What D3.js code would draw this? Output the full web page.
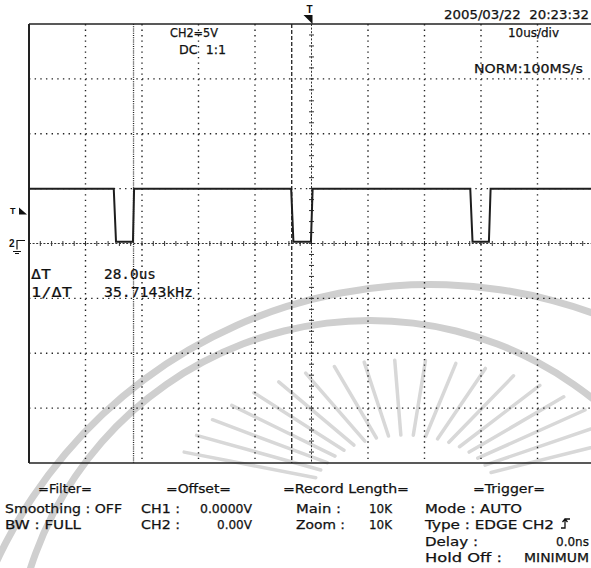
<!DOCTYPE html>
<html>
<head>
<meta charset="utf-8">
<script src="https://cdn.jsdelivr.net/npm/d3@7"></script>
<style>
  html, body { margin: 0; padding: 0; background: #fff; }
  svg { display: block; }
  text { white-space: pre; }
  .lbl { font-family: "DejaVu Sans", sans-serif; font-size: 12.5px; fill: #111; stroke: #111; stroke-width: 0.25px; }
  .mono { font-family: "DejaVu Sans Mono", monospace; font-size: 13.5px; fill: #111; stroke: #111; stroke-width: 0.2px; }
</style>
</head>
<body>
<div id="scope"></div>
<script>
// CH2 waveform (time in us, level in V)
var timesUs = [0, 15.0, 15.4, 18.4, 18.6, 46.4, 46.8, 49.9, 50.2, 78.1, 78.5, 81.4, 81.7, 100];
var ch2Volts = [5.0, 5.0, 0.15, 0.15, 5.0, 5.0, 0.15, 0.15, 5.0, 5.0, 0.15, 0.15, 5.0, 5.0];

// cursors
var cursorTimes = [18.5, 46.5];
var triggerTime = 50;
var triggerLevel = 3.0;

// grid ticks
var timeTicks = [10, 20, 30, 40, 60, 70, 80, 90];
var voltTicks = [-15, -10, -5, 5, 10, 15];

var svgWidth = 591;
var svgHeight = 568;

var svg = d3.select("#scope")
  .append("svg")
  .attr("width", svgWidth)
  .attr("height", svgHeight);

// screen area: 10 div x 8 div, right edge runs off the picture
var x = d3.scaleLinear().domain([0, 100]).range([29, 594]);
var y = d3.scaleLinear().domain([-20, 20]).range([463, 24]);

// --- faint watermark behind everything ---
var mark = svg.append("g").attr("fill", "none").attr("stroke-linecap", "round");
var arcOuter = d3.arc()({ innerRadius: 474, outerRadius: 481, startAngle: -Math.PI * 0.6, endAngle: Math.PI * 0.55 });
mark.append("path").attr("d", arcOuter).attr("transform", "translate(430,762)").attr("fill", "#cfcfcf");
var arcInner = d3.arc()({ innerRadius: 353, outerRadius: 360, startAngle: -Math.PI * 0.62, endAngle: Math.PI * 0.62 });
mark.append("path").attr("d", arcInner).attr("transform", "translate(370,677)").attr("fill", "#cfcfcf");
var rayAngles = d3.range(200, 341, 7.5);
rayAngles.forEach(function (a) {
  var r = a * Math.PI / 180;
  mark.append("line")
    .attr("x1", 405 + Math.cos(r) * 95).attr("y1", 500 + Math.sin(r) * 65)
    .attr("x2", 405 + Math.cos(r) * 235).attr("y2", 500 + Math.sin(r) * 140)
    .attr("stroke-width", 3.5).attr("stroke", "#d8d8d8");
});

// --- grid ---
var grid = svg.append("g");
grid.selectAll(".vgrid")
  .data(timeTicks)
  .enter()
  .append("line")
  .attr("x1", d => x(d)).attr("x2", d => x(d))
  .attr("y1", y(20)).attr("y2", y(-20))
  .attr("stroke", "#222").attr("stroke-width", 1.4)
  .attr("stroke-dasharray", "1.4 4.09");

grid.selectAll(".hgrid")
  .data(voltTicks)
  .enter()
  .append("line")
  .attr("x1", x(0)).attr("x2", svgWidth)
  .attr("y1", d => y(d)).attr("y2", d => y(d))
  .attr("stroke", "#222").attr("stroke-width", 1.4)
  .attr("stroke-dasharray", "1.4 4.25");

// center axes with small ticks
grid.append("line")
  .attr("x1", x(triggerTime)).attr("x2", x(triggerTime))
  .attr("y1", y(20)).attr("y2", y(-20))
  .attr("stroke", "#333").attr("stroke-width", 1)
  .attr("stroke-dasharray", "2 1.6");
grid.selectAll(".vtick")
  .data(d3.range(-19, 20, 1))
  .enter()
  .append("line")
  .attr("x1", x(triggerTime) - 2.5).attr("x2", x(triggerTime) + 2.5)
  .attr("y1", d => y(d)).attr("y2", d => y(d))
  .attr("stroke", "#333").attr("stroke-width", 1);

grid.append("line")
  .attr("x1", x(0)).attr("x2", svgWidth)
  .attr("y1", y(0)).attr("y2", y(0))
  .attr("stroke", "#333").attr("stroke-width", 1)
  .attr("stroke-dasharray", "2 1.6");
grid.selectAll(".htick")
  .data(d3.range(2, 100, 2))
  .enter()
  .append("line")
  .attr("x1", d => x(d)).attr("x2", d => x(d))
  .attr("y1", y(0) - 2.5).attr("y2", y(0) + 2.5)
  .attr("stroke", "#333").attr("stroke-width", 1);

// cursors
grid.append("line")
  .attr("x1", x(cursorTimes[0])).attr("x2", x(cursorTimes[0]))
  .attr("y1", y(20)).attr("y2", y(-20))
  .attr("stroke", "#222").attr("stroke-width", 1.3)
  .attr("stroke-dasharray", "1 1.2");
grid.append("line")
  .attr("x1", x(cursorTimes[1])).attr("x2", x(cursorTimes[1]))
  .attr("y1", y(20)).attr("y2", y(-20))
  .attr("stroke", "#222").attr("stroke-width", 1.3)
  .attr("stroke-dasharray", "4 2");

// frame
svg.append("line").attr("x1", x(0)).attr("x2", svgWidth).attr("y1", y(20)).attr("y2", y(20))
  .attr("stroke", "#222").attr("stroke-width", 1.5);
svg.append("line").attr("x1", x(0)).attr("x2", svgWidth).attr("y1", y(-20)).attr("y2", y(-20))
  .attr("stroke", "#222").attr("stroke-width", 1.5);
svg.append("line").attr("x1", x(0)).attr("x2", x(0)).attr("y1", y(20)).attr("y2", y(-20))
  .attr("stroke", "#222").attr("stroke-width", 2);

// --- waveform ---
var wave = timesUs.map((t, i) => [t, ch2Volts[i]]);
var line = d3.line().x(d => x(d[0])).y(d => y(d[1]));
svg.append("path")
  .datum(wave)
  .attr("d", line)
  .attr("fill", "none")
  .attr("stroke", "#1e1e1e")
  .attr("stroke-width", 2);

// --- markers ---
// trigger position marker (top)
var tx = x(triggerTime);
svg.append("text").attr("x", tx - 5).attr("y", 13).attr("font-family", "Liberation Sans")
  .attr("font-size", 10).attr("font-weight", "bold").attr("fill", "#111").text("T");
svg.append("path").attr("d", `M${tx - 8},15 L${tx + 1},15 L${tx + 1},24 Z`).attr("fill", "#111");

// trigger level marker (left)
var ty = y(triggerLevel);
svg.append("text").attr("x", 10).attr("y", ty + 3).attr("font-family", "Liberation Sans")
  .attr("font-size", 9).attr("font-weight", "bold").attr("fill", "#111").text("T");
svg.append("path").attr("d", `M10,${ty + 4} L27,${ty + 4} L19,${ty - 3} L19,${ty + 4} Z`).attr("fill", "#111");

// ground marker
var gy = y(0);
svg.append("text").attr("x", 9).attr("y", gy + 3).attr("font-family", "Liberation Sans")
  .attr("font-size", 10).attr("font-weight", "bold").attr("fill", "#111").text("2");
svg.append("path").attr("d", `M17,${gy + 6} V${gy - 3} H25 M13,${gy + 8} H21 M15,${gy + 10} H19`)
  .attr("fill", "none").attr("stroke", "#111").attr("stroke-width", 1.2);

// --- readouts: text, left x, baseline, class, width on screen ---
var texts = [
  ["CH2=5V", 170, 37, "lbl", 48],
  ["DC  1:1", 179, 54, "lbl", 47],
  ["2005/03/22  20:23:32", 444, 19, "lbl", 145],
  ["10us/div", 508, 37, "lbl", 51],
  ["NORM:100MS/s", 474, 73, "lbl", 109],
  ["\u0394T", 31, 279, "mono", 20],
  ["28.0us", 104, 279, "mono", 52],
  ["1/\u0394T", 31, 297, "mono", 41],
  ["35.7143kHz", 104, 297, "mono", 89],
  ["=Filter=", 38, 493, "lbl", 54],
  ["Smoothing : OFF", 5, 513, "lbl", 117],
  ["BW : FULL", 5, 529, "lbl", 76],
  ["=Offset=", 166, 493, "lbl", 65],
  ["CH1 :", 141, 513, "lbl", 39],
  ["CH2 :", 141, 529, "lbl", 39],
  ["0.0000V", 200, 513, "lbl", 52],
  ["0.00V", 217, 529, "lbl", 35],
  ["=Record Length=", 283, 493, "lbl", 126],
  ["Main :", 296, 513, "lbl", 45],
  ["Zoom :", 296, 529, "lbl", 49],
  ["10K", 369, 513, "lbl", 23],
  ["10K", 369, 529, "lbl", 23],
  ["=Trigger=", 473, 493, "lbl", 72],
  ["Mode : AUTO", 425, 513, "lbl", 97],
  ["Type : EDGE CH2", 425, 529, "lbl", 129],
  ["Delay :", 425, 546, "lbl", 53],
  ["Hold Off :", 425, 562, "lbl", 77],
  ["0.0ns", 556, 546, "lbl", 33],
  ["MINIMUM", 524, 562, "lbl", 65]
];
svg.selectAll(".readout")
  .data(texts)
  .enter()
  .append("text")
  .attr("class", d => d[3])
  .attr("x", d => d[1])
  .attr("y", d => d[2])
  .attr("textLength", d => d[4])
  .attr("lengthAdjust", "spacingAndGlyphs")
  .text(d => d[0]);

// rising edge symbol after the trigger source
svg.append("path").attr("d", "M561,528 H565 V519 H570 M562.5,522 L565,519 L567.5,522")
  .attr("fill", "none").attr("stroke", "#111").attr("stroke-width", 1.3);
</script>
</body>
</html>
